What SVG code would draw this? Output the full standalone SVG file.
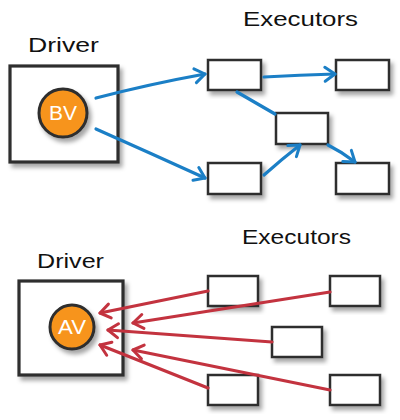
<svg xmlns="http://www.w3.org/2000/svg" width="400" height="420" viewBox="0 0 400 420">
  <defs>
    <filter id="shadow" x="-20%" y="-20%" width="150%" height="150%">
      <feDropShadow dx="3" dy="4" stdDeviation="2.2" flood-color="#000" flood-opacity="0.35"/>
    </filter>
    <marker id="headBlue" markerUnits="userSpaceOnUse" markerWidth="20" markerHeight="20" viewBox="-12 -10 14 20" refX="0" refY="0" orient="auto">
      <path d="M-10,-7 L0,0 L-10,7" fill="none" stroke="#1b7fc6" stroke-width="3" stroke-linecap="round" stroke-linejoin="round"/>
    </marker>
    <marker id="headRed" markerUnits="userSpaceOnUse" markerWidth="20" markerHeight="20" viewBox="-12 -10 14 20" refX="0" refY="0" orient="auto">
      <path d="M-10,-7 L0,0 L-10,7" fill="none" stroke="#c3333f" stroke-width="3" stroke-linecap="round" stroke-linejoin="round"/>
    </marker>
  </defs>
  <style>
    .label { font-family: "Liberation Sans", "DejaVu Sans", sans-serif; font-size: 20px; fill: #111; }
    .box { fill: #fff; stroke: #2e2e2e; stroke-width: 2.5; filter: url(#shadow); }
    .driver { fill: #fff; stroke: #2e2e2e; stroke-width: 3.2; filter: url(#shadow); }
    .var { fill: #f7941e; stroke: #2e2e2e; stroke-width: 3; filter: url(#shadow); }
    .varText { font-family: "Liberation Sans", "DejaVu Sans", sans-serif; font-size: 20px; fill: #fff; text-anchor: middle; }
    .blue { fill: none; stroke: #1b7fc6; stroke-width: 3.2; stroke-linecap: round; }
    .red { fill: none; stroke: #c3333f; stroke-width: 3.2; stroke-linecap: round; }
  </style>

  <!-- Broadcast: driver sends the variable out to executors -->
  <text class="label" x="28" y="52" textLength="71" lengthAdjust="spacingAndGlyphs">Driver</text>
  <text class="label" x="243" y="26" textLength="115" lengthAdjust="spacingAndGlyphs">Executors</text>

  <g id="driver-top">
    <rect class="driver" x="10" y="66" width="108" height="96"/>
  </g>
  <g id="bv">
    <circle class="var" cx="63" cy="113" r="24"/>
    <text class="varText" x="63" y="120" textLength="28" lengthAdjust="spacingAndGlyphs">BV</text>
  </g>

  <g id="exec-top-1"><rect class="box" x="208" y="60" width="53" height="30"/></g>
  <g id="exec-top-2"><rect class="box" x="336" y="60" width="53" height="30"/></g>
  <g id="exec-top-3"><rect class="box" x="276" y="113" width="52" height="31"/></g>
  <g id="exec-top-4"><rect class="box" x="208" y="163" width="53" height="31"/></g>
  <g id="exec-top-5"><rect class="box" x="336" y="163" width="53" height="31"/></g>

  <g id="connectors-top">
    <path class="blue" d="M96,98 Q150,84 205,74" marker-end="url(#headBlue)"/>
    <path class="blue" d="M96,129 Q150,153 205,178" marker-end="url(#headBlue)"/>
    <path class="blue" d="M264,77 Q300,75 335,74" marker-end="url(#headBlue)"/>
    <path class="blue" d="M237,92 L275,114"/>
    <path class="blue" d="M264,175 Q282,159 300,145" marker-end="url(#headBlue)"/>
    <path class="blue" d="M328,145 Q342,152 355,162" marker-end="url(#headBlue)"/>
  </g>

  <!-- Accumulator: executors send updates back to the driver -->
  <text class="label" x="37" y="268" textLength="67" lengthAdjust="spacingAndGlyphs">Driver</text>
  <text class="label" x="242" y="244" textLength="109" lengthAdjust="spacingAndGlyphs">Executors</text>

  <g id="driver-bottom">
    <rect class="driver" x="19" y="281" width="104" height="94"/>
  </g>
  <g id="av">
    <circle class="var" cx="72" cy="327" r="22"/>
    <text class="varText" x="72" y="334" textLength="28" lengthAdjust="spacingAndGlyphs">AV</text>
  </g>

  <g id="exec-bot-1"><rect class="box" x="208" y="276" width="50" height="30"/></g>
  <g id="exec-bot-2"><rect class="box" x="330" y="276" width="50" height="30"/></g>
  <g id="exec-bot-3"><rect class="box" x="272" y="327" width="50" height="30"/></g>
  <g id="exec-bot-4"><rect class="box" x="208" y="375" width="50" height="30"/></g>
  <g id="exec-bot-5"><rect class="box" x="330" y="375" width="50" height="30"/></g>

  <g id="connectors-bottom">
    <path class="red" d="M208,291 L100,313" marker-end="url(#headRed)"/>
    <path class="red" d="M330,292 L133,323" marker-end="url(#headRed)"/>
    <path class="red" d="M272,342 L108,330" marker-end="url(#headRed)"/>
    <path class="red" d="M330,390 L133,350" marker-end="url(#headRed)"/>
    <path class="red" d="M208,388 L100,345" marker-end="url(#headRed)"/>
  </g>
</svg>
